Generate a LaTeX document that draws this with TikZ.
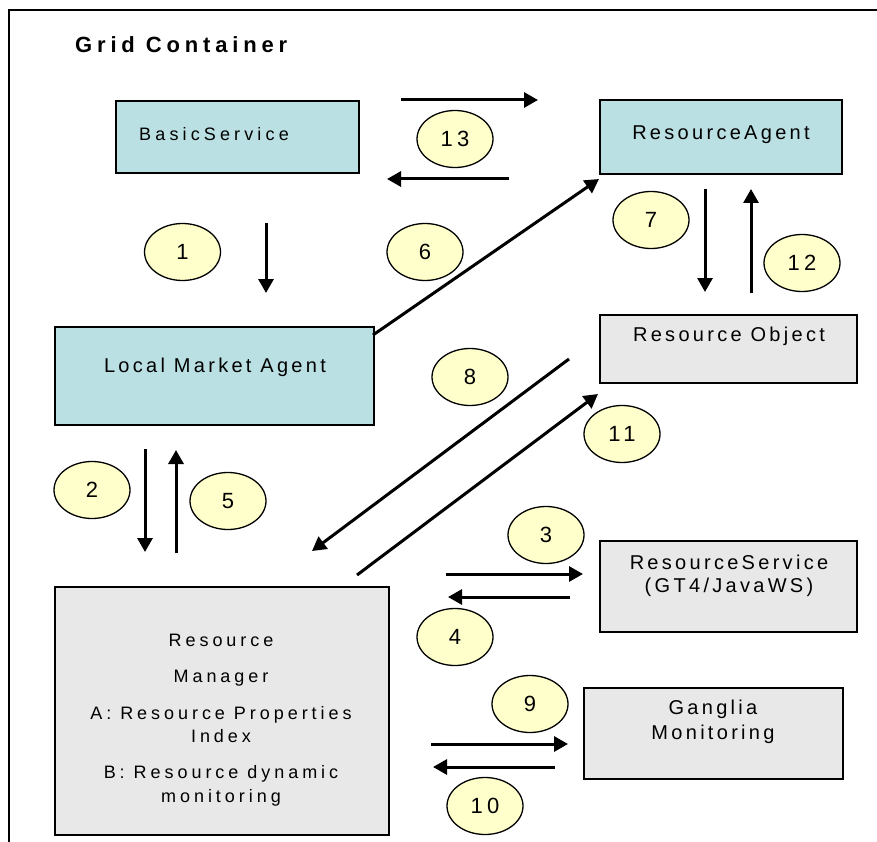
\documentclass[tikz,border=0pt]{standalone}
\usepackage{fontspec}
\setmainfont{Liberation Sans}
\newfontfamily\labfont[LetterSpace=16.5]{Liberation Sans}
\newfontfamily\smlabfont[LetterSpace=23]{Liberation Sans}
\newfontfamily\rmfont[LetterSpace=22]{Liberation Sans}
\newfontfamily\numfont[LetterSpace=20]{Liberation Sans}
\newfontfamily\titlefont[LetterSpace=22]{Liberation Sans}
\usetikzlibrary{arrows.meta,shapes.geometric}
\definecolor{boxblue}{HTML}{BAE0E3}
\definecolor{boxgray}{HTML}{E8E8E8}
\definecolor{ellyellow}{HTML}{FFFFCC}
\begin{document}
\begin{tikzpicture}[x=1pt,y=-1pt,
  bluebox/.style={draw, line width=1.8pt, fill=boxblue, inner sep=0pt, anchor=north west},
  graybox/.style={draw, line width=1.8pt, fill=boxgray, inner sep=0pt, anchor=north west},
  lab/.style={font=\labfont\fontsize{20}{23.5}\selectfont, inner sep=0pt, align=center},
  num/.style={ellipse, draw, line width=1.3pt, fill=ellyellow, minimum width=76pt, minimum height=57pt, inner sep=0pt, font=\numfont\fontsize{22}{22}\selectfont},
  arr/.style={line width=3pt, -{Triangle[length=14pt,width=15pt]}}]
\useasboundingbox (0,0) rectangle (877,842);
% frame
\draw[line width=1.5pt] (9,842) -- (9,10) -- (877,10);
\node[anchor=west, inner sep=0pt, font=\titlefont\bfseries\fontsize{22}{22}\selectfont] (title) at (75,45) {Grid Container};

% boxes
\node[bluebox, minimum width=243pt, minimum height=72pt] (bs) at (115,100) {};
\node[lab, font=\smlabfont\fontsize{18}{20}\selectfont] (bst) at (214,134) {BasicService};
\node[bluebox, minimum width=242pt, minimum height=74pt] (ra) at (599,99) {};
\node[lab] (rat) at (721,135) {ResourceAgent};
\node[bluebox, minimum width=319pt, minimum height=98pt] (lma) at (54,326) {};
\node[lab] (lmat) at (215,367) {Local Market Agent};
\node[graybox, minimum width=257pt, minimum height=68pt] (ro) at (599,314) {};
\node[lab] (rot) at (729,336) {Resource Object};
\node[graybox, minimum width=257pt, minimum height=91pt] (rs) at (599,540) {};
\node[lab] (rst) at (729,576) {ResourceService\\(GT4/JavaWS)};
\node[graybox, minimum width=259pt, minimum height=91pt] (gm) at (583,687) {};
\node[lab, font=\labfont\fontsize{20}{25}\selectfont] (gmt) at (713,722) {Ganglia\\Monitoring};
\node[graybox, minimum width=334pt, minimum height=248pt] (rm) at (54,586) {};
\node[lab, font=\rmfont\fontsize{18}{23.5}\selectfont] (rmt) at (221,720) {Resource\\[12.5pt]Manager\\[13.5pt]A: Resource Properties\\Index\\[12.5pt]B: Resource dynamic\\monitoring};

% ellipses
\node[num] (e13) at (455,139) {13};
\node[num] (e1) at (182.5,252) {1};
\node[num] (e6) at (425,252) {6};
\node[num] (e7) at (651,220) {7};
\node[num] (e12) at (802,263) {12};
\node[num] (e8) at (470,377) {8};
\node[num] (e11) at (622,434) {11};
\node[num] (e2) at (92,490) {2};
\node[num] (e5) at (228,501) {5};
\node[num] (e3) at (546,535) {3};
\node[num] (e4) at (455,637) {4};
\node[num] (e9) at (530,704) {9};
\node[num] (e10) at (485,806) {10};

% arrow end points
\coordinate (p13a) at (401,100); \coordinate (q13a) at (538,100);
\coordinate (p13b) at (509,179); \coordinate (q13b) at (387,179);
\coordinate (p1) at (266,223);   \coordinate (q1) at (266,293);
\coordinate (p6) at (373,335);   \coordinate (q6) at (599,179);
\coordinate (p7) at (705,189);   \coordinate (q7) at (705,292);
\coordinate (p12) at (751,293);  \coordinate (q12) at (751,189);
\coordinate (p8) at (569,359);   \coordinate (q8) at (312,551);
\coordinate (p11) at (357,575);  \coordinate (q11) at (598,394);
\coordinate (p2) at (145,449);   \coordinate (q2) at (145,552);
\coordinate (p5) at (176,553);   \coordinate (q5) at (176,450);
\coordinate (p3) at (446,574);   \coordinate (q3) at (583,574);
\coordinate (p4) at (570,597);   \coordinate (q4) at (448,597);
\coordinate (p9) at (431,744);   \coordinate (q9) at (568,744);
\coordinate (p10) at (555,767);  \coordinate (q10) at (433,767);

\draw[arr] (p13a) -- (q13a);
\draw[arr] (p13b) -- (q13b);
\draw[arr] (p1) -- (q1);
\draw[arr] (p6) -- (q6);
\draw[arr] (p7) -- (q7);
\draw[arr] (p12) -- (q12);
\draw[arr] (p8) -- (q8);
\draw[arr] (p11) -- (q11);
\draw[arr] (p2) -- (q2);
\draw[arr] (p5) -- (q5);
\draw[arr] (p3) -- (q3);
\draw[arr] (p4) -- (q4);
\draw[arr] (p9) -- (q9);
\draw[arr] (p10) -- (q10);
\end{tikzpicture}
\end{document}
